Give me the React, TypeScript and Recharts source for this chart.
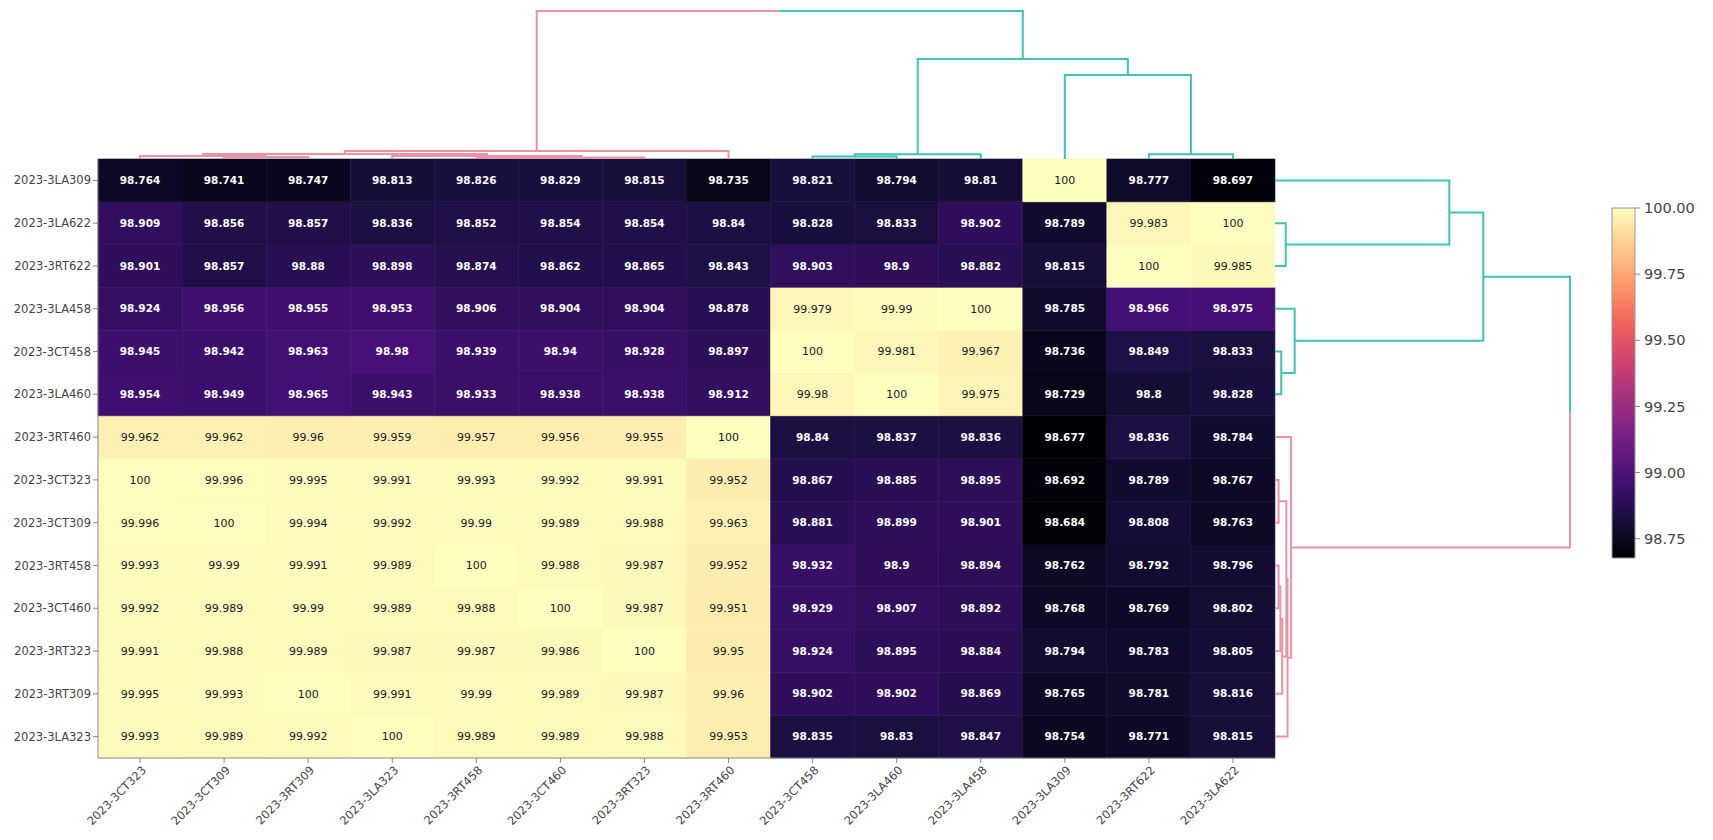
import React from "react";
import {
  BarChart,
  Bar,
  Cell,
  XAxis,
  YAxis,
  LabelList,
  ScatterChart,
  Scatter,
} from "recharts";

const W = 1713;
const H = 840;

// heatmap frame (page pixels)
const HM_LEFT = 98;
const HM_RIGHT = 1275;
const HM_TOP = 159;
const HM_BOTTOM = 758;

const colLabels = [
  "2023-3CT323", "2023-3CT309", "2023-3RT309", "2023-3LA323", "2023-3RT458",
  "2023-3CT460", "2023-3RT323", "2023-3RT460", "2023-3CT458", "2023-3LA460",
  "2023-3LA458", "2023-3LA309", "2023-3RT622", "2023-3LA622",
];

const rowLabels = [
  "2023-3LA309", "2023-3LA622", "2023-3RT622", "2023-3LA458", "2023-3CT458",
  "2023-3LA460", "2023-3RT460", "2023-3CT323", "2023-3CT309", "2023-3RT458",
  "2023-3CT460", "2023-3RT323", "2023-3RT309", "2023-3LA323",
];

const values = [
  [98.764, 98.741, 98.747, 98.813, 98.826, 98.829, 98.815, 98.735, 98.821, 98.794, 98.81, 100, 98.777, 98.697],
  [98.909, 98.856, 98.857, 98.836, 98.852, 98.854, 98.854, 98.84, 98.828, 98.833, 98.902, 98.789, 99.983, 100],
  [98.901, 98.857, 98.88, 98.898, 98.874, 98.862, 98.865, 98.843, 98.903, 98.9, 98.882, 98.815, 100, 99.985],
  [98.924, 98.956, 98.955, 98.953, 98.906, 98.904, 98.904, 98.878, 99.979, 99.99, 100, 98.785, 98.966, 98.975],
  [98.945, 98.942, 98.963, 98.98, 98.939, 98.94, 98.928, 98.897, 100, 99.981, 99.967, 98.736, 98.849, 98.833],
  [98.954, 98.949, 98.965, 98.943, 98.933, 98.938, 98.938, 98.912, 99.98, 100, 99.975, 98.729, 98.8, 98.828],
  [99.962, 99.962, 99.96, 99.959, 99.957, 99.956, 99.955, 100, 98.84, 98.837, 98.836, 98.677, 98.836, 98.784],
  [100, 99.996, 99.995, 99.991, 99.993, 99.992, 99.991, 99.952, 98.867, 98.885, 98.895, 98.692, 98.789, 98.767],
  [99.996, 100, 99.994, 99.992, 99.99, 99.989, 99.988, 99.963, 98.881, 98.899, 98.901, 98.684, 98.808, 98.763],
  [99.993, 99.99, 99.991, 99.989, 100, 99.988, 99.987, 99.952, 98.932, 98.9, 98.894, 98.762, 98.792, 98.796],
  [99.992, 99.989, 99.99, 99.989, 99.988, 100, 99.987, 99.951, 98.929, 98.907, 98.892, 98.768, 98.769, 98.802],
  [99.991, 99.988, 99.989, 99.987, 99.987, 99.986, 100, 99.95, 98.924, 98.895, 98.884, 98.794, 98.783, 98.805],
  [99.995, 99.993, 100, 99.991, 99.99, 99.989, 99.987, 99.96, 98.902, 98.902, 98.869, 98.765, 98.781, 98.816],
  [99.993, 99.989, 99.992, 100, 99.989, 99.989, 99.988, 99.953, 98.835, 98.83, 98.847, 98.754, 98.771, 98.815],
];

// linkage, scipy style: [left id, right id, distance]; leaves are 0..13 in display order
const colLinkage: [number, number, number][] = [
  [4, 5, 0.03],
  [14, 6, 0.04],
  [1, 2, 0.05],
  [8, 9, 0.06],
  [0, 16, 0.075],
  [3, 15, 0.075],
  [17, 10, 0.12],
  [12, 13, 0.12],
  [18, 19, 0.125],
  [22, 7, 0.2],
  [11, 21, 2.1],
  [20, 24, 2.5],
  [23, 25, 3.7],
];

const rowLinkage: [number, number, number][] = [
  [7, 8, 0.04],
  [9, 10, 0.04],
  [15, 11, 0.06],
  [4, 5, 0.07],
  [16, 12, 0.08],
  [1, 2, 0.12],
  [14, 18, 0.127],
  [20, 13, 0.14],
  [6, 21, 0.18],
  [3, 17, 0.22],
  [0, 19, 1.95],
  [24, 23, 2.33],
  [25, 22, 3.3],
];

// which branch colour each leaf belongs to (0 = pink, 1 = teal)
const colClusters = [0, 0, 0, 0, 0, 0, 0, 0, 1, 1, 1, 1, 1, 1];
const rowClusters = [1, 1, 1, 1, 1, 1, 0, 0, 0, 0, 0, 0, 0, 0];
const branchColors = ["#ea93a3", "#3ec4b2"];

const colorTicks = [98.75, 99, 99.25, 99.5, 99.75, 100];
const magma = [
  "#000004", "#180f3d", "#440f76", "#721f81", "#9e2f7f",
  "#cd4071", "#f1605d", "#fd9668", "#feca8d", "#fcfdbf",
];

const flat = values.flat();
const zMin = Math.min(...flat);
const zMax = Math.max(...flat);

function magmaAt(t: number) {
  const tt = Math.max(0, Math.min(1, t));
  const s = tt * (magma.length - 1);
  const i = Math.min(Math.floor(s), magma.length - 2);
  const f = s - i;
  const a = magma[i];
  const b = magma[i + 1];
  const ch = (h: string, k: number) => parseInt(h.slice(1 + k * 2, 3 + k * 2), 16);
  const rgb = [0, 1, 2].map((k) => Math.round(ch(a, k) + (ch(b, k) - ch(a, k)) * f));
  return `rgb(${rgb.join(",")})`;
}

const zColor = (v: number) => magmaAt((v - zMin) / (zMax - zMin));

// one entry per column, one stacked unit segment per row
const heatData = colLabels.map((name, c) => {
  const o: any = { name };
  rowLabels.forEach((_, r) => {
    o[`r${r}`] = 1;
    o[`v${r}`] = values[r][c];
  });
  return o;
});

const rowTicks = rowLabels.map((_, i) => rowLabels.length - i - 0.5);

type Seg = { color: string; pts: { p: number; d: number }[] };

function dendroSegments(linkage: [number, number, number][], clusters: number[]): Seg[] {
  const n = clusters.length;
  const pos: number[] = [];
  const hgt: number[] = [];
  const first: number[] = [];
  for (let i = 0; i < n; i++) {
    pos.push(i + 0.5);
    hgt.push(0);
    first.push(i);
  }
  const segs: Seg[] = [];
  linkage.forEach(([a, b, d], k) => {
    const ca = branchColors[clusters[first[a]]];
    const cb = branchColors[clusters[first[b]]];
    if (k === linkage.length - 1 && ca !== cb) {
      // root link: each half takes the colour of its own branch
      const mid = (pos[a] + pos[b]) / 2;
      segs.push({ color: ca, pts: [{ p: pos[a], d: hgt[a] }, { p: pos[a], d }, { p: mid, d }] });
      segs.push({ color: cb, pts: [{ p: mid, d }, { p: pos[b], d }, { p: pos[b], d: hgt[b] }] });
    } else {
      segs.push({
        color: ca,
        pts: [
          { p: pos[a], d: hgt[a] },
          { p: pos[a], d },
          { p: pos[b], d },
          { p: pos[b], d: hgt[b] },
        ],
      });
    }
    pos.push((pos[a] + pos[b]) / 2);
    hgt.push(d);
    first.push(Math.min(first[a], first[b]));
  });
  return segs;
}

const colSegs = dendroSegments(colLinkage, colClusters);
const rowSegs = dendroSegments(rowLinkage, rowClusters);

const noDot = () => <g />;

const ColTick = (props: any) => {
  const { x, y, payload } = props;
  return (
    <text
      x={x + 4}
      y={y + 3}
      transform={`rotate(-45 ${x + 4} ${y + 3})`}
      textAnchor="end"
      dy="0.35em"
      fill="#444"
      fontSize={11.5}
    >
      {payload.value}
    </text>
  );
};

const cellLabel = (props: any) => {
  const vb = props.viewBox || props;
  const v = Number(props.value);
  const light = (v - zMin) / (zMax - zMin) > 0.6;
  return (
    <text
      x={vb.x + vb.width / 2}
      y={vb.y + vb.height / 2}
      dy="0.35em"
      textAnchor="middle"
      fontSize={light ? 11 : 10.5}
      fontWeight={light ? "normal" : "bold"}
      fill={light ? "#1a1a1a" : "#ffffff"}
    >
      {String(v)}
    </text>
  );
};

const layer: React.CSSProperties = { position: "absolute", left: 0, top: 0 };

export default function App() {
  const n = colLabels.length;
  return (
    <div
      style={{
        position: "absolute",
        left: 0,
        top: 0,
        width: W,
        height: H,
        background: "#fff",
        fontFamily: "'DejaVu Sans', Verdana, sans-serif",
        overflow: "hidden",
      }}
    >
      {/* heatmap */}
      <div style={layer}>
        <BarChart
          width={W}
          height={H}
          data={heatData}
          barCategoryGap={0}
          barGap={0}
          margin={{ top: HM_TOP, right: W - HM_RIGHT, bottom: 0, left: 0 }}
        >
          <XAxis
            dataKey="name"
            interval={0}
            height={H - HM_BOTTOM}
            tick={<ColTick />}
            tickSize={5}
            tickLine={{ stroke: "#888" }}
            axisLine={{ stroke: "#888" }}
          />
          <XAxis xAxisId="top" dataKey="name" orientation="top" height={0} tick={false} tickLine={false} axisLine={{ stroke: "#888" }} />
          <YAxis
            type="number"
            domain={[0, rowLabels.length]}
            ticks={rowTicks}
            interval={0}
            width={HM_LEFT}
            tickFormatter={(v: number) => rowLabels[Math.round(rowLabels.length - 0.5 - v)]}
            tick={{ fill: "#444", fontSize: 11.5 }}
            tickSize={5}
            tickMargin={2}
            tickLine={{ stroke: "#888" }}
            axisLine={{ stroke: "#888" }}
          />
          <YAxis yAxisId="right" orientation="right" type="number" domain={[0, rowLabels.length]} width={0} tick={false} tickLine={false} axisLine={{ stroke: "#888" }} />
          {rowLabels
            .map((_, r) => r)
            .reverse()
            .map((r) => (
              <Bar key={r} dataKey={`r${r}`} stackId="hm" isAnimationActive={false}>
                {colLabels.map((_, c) => (
                  <Cell
                    key={c}
                    fill={zColor(values[r][c])}
                    stroke={zColor(values[r][c])}
                    strokeWidth={0.6}
                  />
                ))}
                <LabelList dataKey={`v${r}`} content={cellLabel} />
              </Bar>
            ))}
        </BarChart>
      </div>

      {/* column dendrogram */}
      <div style={layer}>
        <ScatterChart
          width={W}
          height={H}
          margin={{ top: 11, right: W - HM_RIGHT, bottom: H - HM_TOP, left: HM_LEFT }}
        >
          <XAxis type="number" dataKey="x" domain={[0, n]} hide />
          <YAxis type="number" dataKey="y" domain={[0, colLinkage[colLinkage.length - 1][2]]} hide />
          {colSegs.map((s, i) => (
            <Scatter
              key={i}
              data={s.pts.map((q) => ({ x: q.p, y: q.d }))}
              fill={s.color}
              line={{ stroke: s.color, strokeWidth: 2 }}
              shape={noDot}
              isAnimationActive={false}
            />
          ))}
        </ScatterChart>
      </div>

      {/* row dendrogram */}
      <div style={layer}>
        <ScatterChart
          width={W}
          height={H}
          margin={{ top: HM_TOP, right: W - 1570, bottom: H - HM_BOTTOM, left: HM_RIGHT }}
        >
          <XAxis type="number" dataKey="x" domain={[0, rowLinkage[rowLinkage.length - 1][2]]} hide />
          <YAxis type="number" dataKey="y" domain={[0, rowLabels.length]} reversed hide />
          {rowSegs.map((s, i) => (
            <Scatter
              key={i}
              data={s.pts.map((q) => ({ x: q.d, y: q.p }))}
              fill={s.color}
              line={{ stroke: s.color, strokeWidth: 2 }}
              shape={noDot}
              isAnimationActive={false}
            />
          ))}
        </ScatterChart>
      </div>

      {/* colour bar */}
      <div style={layer}>
        <BarChart
          width={W}
          height={H}
          data={[{ name: "z", range: [zMin, zMax] }]}
          barCategoryGap={0}
          margin={{ top: 208, right: 0, bottom: H - 558, left: 1612 }}
        >
          <defs>
            <linearGradient id="magmaGrad" x1="0" y1="1" x2="0" y2="0">
              {magma.map((c, i) => (
                <stop key={i} offset={i / (magma.length - 1)} stopColor={c} />
              ))}
            </linearGradient>
          </defs>
          <XAxis dataKey="name" hide />
          <YAxis
            orientation="right"
            type="number"
            domain={[zMin, zMax]}
            ticks={colorTicks}
            interval={0}
            width={W - 1635}
            tickFormatter={(v: number) => v.toFixed(2)}
            tick={{ fill: "#444", fontSize: 14.5 }}
            tickSize={5}
            tickMargin={4}
            tickLine={{ stroke: "#888" }}
            axisLine={false}
          />
          <Bar dataKey="range" fill="url(#magmaGrad)" stroke="#999" strokeWidth={1} isAnimationActive={false} />
        </BarChart>
      </div>
    </div>
  );
}
